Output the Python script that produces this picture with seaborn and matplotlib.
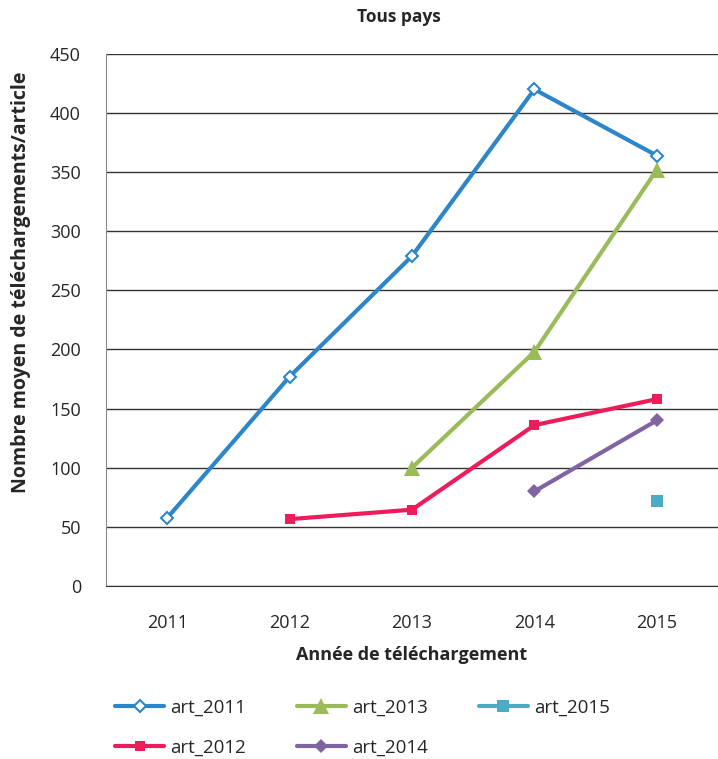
import matplotlib
matplotlib.use("Agg")
import matplotlib.pyplot as plt
import seaborn as sns
import pandas as pd
import numpy as np

annees = ["2011", "2012", "2013", "2014", "2015"]
art_2011 = [57.5, 177, 279, 420, 364]
art_2012 = [np.nan, 56.5, 64.5, 136, 158]
art_2013 = [np.nan, np.nan, 100, 198, 352]
art_2014 = [np.nan, np.nan, np.nan, 80, 140]
art_2015 = [np.nan, np.nan, np.nan, np.nan, 72]

series = {
    "art_2011": art_2011,
    "art_2012": art_2012,
    "art_2013": art_2013,
    "art_2014": art_2014,
    "art_2015": art_2015,
}
styles = {
    "art_2011": dict(color="#2E86C8", marker="D", markersize=6, mfc="white", mew=1.5),
    "art_2012": dict(color="#EE1C5A", marker="s", markersize=7),
    "art_2013": dict(color="#9BBB59", marker="^", markersize=12),
    "art_2014": dict(color="#8064A2", marker="D", markersize=7),
    "art_2015": dict(color="#4BACC6", marker="s", markersize=9),
}

sns.set_style("white")
plt.rcParams["font.family"] = ["Open Sans", "DejaVu Sans"]

fig = plt.figure(figsize=(7.18, 7.59), dpi=100)
ax = fig.add_axes([0.1476, 0.228, 0.8524, 0.701])

x = np.arange(len(annees))
for name, vals in series.items():
    df = pd.DataFrame({"x": x, "y": vals}).dropna()
    st = styles[name]
    sns.lineplot(data=df, x="x", y="y", ax=ax, color=st["color"], linewidth=3,
                 marker=st["marker"], markersize=st["markersize"],
                 markerfacecolor=st.get("mfc", st["color"]),
                 markeredgecolor=st["color"], markeredgewidth=st.get("mew", 0),
                 label=name)

ax.set_xlim(-0.5, 4.45)
ax.set_ylim(0, 450)
ax.set_yticks(range(0, 451, 50))
ax.set_xticks(x)
ax.set_xticklabels(annees)
ax.set_xticks(np.arange(-0.5, 4.6, 1), minor=True)
ax.tick_params(axis="x", which="major", length=0, pad=20, labelsize=13)
ax.tick_params(axis="x", which="minor", length=7, color="#333333", direction="out")
ax.tick_params(axis="y", length=6, color="#888888", direction="out", labelsize=13,
               pad=12)
ax.grid(axis="y", color="#333333", linewidth=1)
ax.grid(axis="x", visible=False)
for s in ["top", "right"]:
    ax.spines[s].set_visible(False)
ax.spines["left"].set_color("#888888")
ax.spines["bottom"].set_color("#333333")

ax.set_xlabel("Année de téléchargement", fontsize=13, fontweight="bold", labelpad=10)
ax.set_ylabel("Nombre moyen de téléchargements/article", fontsize=14,
              fontweight="bold")
ax.yaxis.set_label_coords(-0.123, 0.571)
fig.text(0.555, 0.978, "Tous pays", ha="center", va="center", fontsize=12.5,
         fontweight="bold")

handles, labels = ax.get_legend_handles_labels()
fig.legend(handles, labels, loc="upper left", bbox_to_anchor=(0.15, 0.089),
           borderaxespad=0, ncol=3, frameon=False, fontsize=13.5,
           handlelength=2.6, columnspacing=2.7, labelspacing=1.15,
           handletextpad=0.35)
ax.get_legend().remove() if ax.get_legend() else None

fig.savefig("out.png", dpi=100)
